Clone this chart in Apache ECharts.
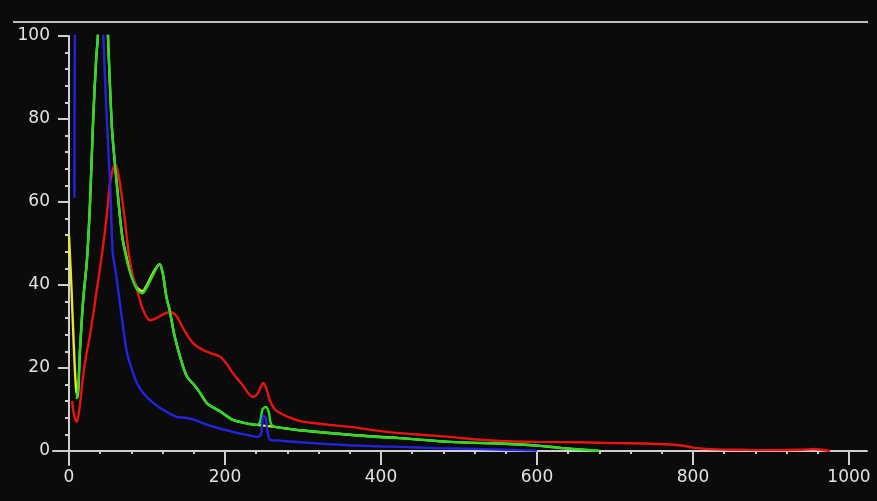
<!DOCTYPE html>
<html>
<head>
<meta charset="utf-8">
<script src="https://cdn.jsdelivr.net/npm/echarts@6/dist/echarts.min.js"></script>
<style>
html,body{margin:0;padding:0;background:#0b0b0b;}
#chart{width:877px;height:501px;}
</style>
</head>
<body>
<div id="chart"></div>
<script>
// Channel histogram data: [intensity, percent]
const yellowData = [[0,52],[3,40],[6,26],[9,15],[11,13],[14,24],[18,36],[23,46],[27,60],[31,80],[35,95],[37,100],[38,112],[48,112],[50,100],[55,78],[59,69],[68,52],[74,46.5],[80,42.5],[87,39.5],[94,38.5],[100,40],[108,43],[116,45],[120,43],[125,37],[129,34],[135,28],[142,23],[151,18],[160,16],[168,14],[177,11.5],[194,9.5],[210,7.5],[232,6.5],[241,6.3],[264,5.8],[296,5],[360,3.9],[424,3.1],[488,2.2],[552,1.8],[600,1.3],[633,0.7],[680,0]];
const redData = [[4,12],[7,8.2],[10,7],[14,11],[18,18],[22,23],[27,28],[35,38],[42,47],[48,56],[53,65],[59,69],[63,67],[68,61],[72,55],[77,47],[82,42],[87,39],[95,34],[104,31.5],[112,32],[121,33],[130,33.5],[138,32.4],[148,29],[159,26],[170,24.5],[181,23.6],[194,22.7],[202,21],[210,18.8],[222,16],[236,13],[241,13.6],[246,15.5],[249,16.4],[253,15],[258,12],[264,10],[270,9.2],[280,8.3],[296,7.2],[330,6.4],[360,5.8],[400,4.8],[424,4.3],[460,3.8],[488,3.4],[527,2.7],[552,2.4],[600,2.2],[655,2.1],[700,1.9],[740,1.8],[783,1.4],[805,0.7],[830,0.4],[860,0.3],[900,0.2],[940,0.3],[955,0.5],[965,0.3],[976,0]];
const greenData = [[10,12.5],[12,16],[14,24],[18,36],[23,46],[27,60],[31,80],[35,95],[37,100],[38,112],[48,112],[50,100],[55,78],[59,69],[68,52],[74,46],[80,42],[87,39],[94,38],[100,39.5],[108,42.5],[116,45],[120,43],[125,37],[129,34],[135,28],[142,23],[151,18],[160,16],[168,14],[177,11.5],[194,9.5],[210,7.5],[232,6.5],[241,6.3],[245,7],[248,10],[252,10.6],[256,9.5],[259,6.5],[264,5.8],[280,5.4],[296,5],[330,4.4],[360,3.9],[400,3.3],[424,3.1],[460,2.6],[488,2.2],[527,1.9],[552,1.8],[600,1.3],[633,0.7],[660,0.3],[680,0]];
const blueData = [[7,61],[9,115],[42,115],[44,100],[49,78],[53,63],[56,48],[60,43],[65,36],[70,29],[74,24],[80,20],[87,16.4],[95,14],[108,11.6],[120,10],[138,8.2],[150,8],[159,7.6],[175,6.5],[190,5.6],[210,4.6],[230,3.8],[241,3.4],[246,4],[249,8.5],[252,8],[255,4],[258,2.7],[270,2.5],[296,2.1],[330,1.7],[360,1.4],[400,1.1],[424,1],[470,0.7],[520,0.5],[560,0.3],[600,0.1]];

const xRange = [0, 1000];
const yRange = [0, 100];
const xStep = 200;
const yStep = 20;

const axisColor = '#cfcfcf';
const labelStyle = {color:'#e2e2e2', fontSize:17, fontFamily:'DejaVu Sans'};

const chart = echarts.init(document.getElementById('chart'));
function lineSeries(name, data, color){
  return {name, type:'line', data, xAxisIndex:0, yAxisIndex:0, showSymbol:false, symbol:'none',
    smooth:0.3, clip:true, lineStyle:{color, width:2.4}, itemStyle:{color}, silent:true};
}
chart.setOption({
  backgroundColor:'#0b0b0b',
  animation:false,
  grid:[
    {left:69, right:28, top:36, bottom:50},
    {left:53, right:10, top:36, bottom:36}
  ],
  xAxis:[
    {type:'value', gridIndex:0, min:xRange[0], max:xRange[1], interval:xStep,
      axisLine:{show:false}, splitLine:{show:false},
      axisTick:{show:true, length:14, lineStyle:{color:axisColor, width:2}},
      minorTick:{show:true, splitNumber:5, length:3, lineStyle:{color:axisColor, width:2}},
      axisLabel:{...labelStyle, margin:18, formatter:v => String(v)}},
    {type:'value', gridIndex:1, min:-20.5, max:1023,
      axisLine:{show:true, onZero:true, lineStyle:{color:axisColor, width:2}},
      axisTick:{show:false}, axisLabel:{show:false}, splitLine:{show:false}}
  ],
  yAxis:[
    {type:'value', gridIndex:0, min:yRange[0], max:yRange[1], interval:yStep,
      axisLine:{show:false}, splitLine:{show:false},
      axisTick:{show:true, length:11, lineStyle:{color:axisColor, width:2}},
      minorTick:{show:true, splitNumber:5, length:4, lineStyle:{color:axisColor, width:2}},
      axisLabel:{...labelStyle, margin:19, formatter:v => String(v)}},
    {type:'value', gridIndex:1, min:-3.4, max:100,
      axisLine:{show:true, onZero:true, lineStyle:{color:axisColor, width:2}},
      axisTick:{show:false}, axisLabel:{show:false}, splitLine:{show:false}}
  ],
  graphic:[
    {type:'line', shape:{x1:13, y1:22, x2:868, y2:22}, style:{stroke:'#bdbdbd', lineWidth:2}, z:10}
  ],
  series:[
    lineSeries('Luminance', yellowData, '#e6e62e'),
    lineSeries('Red', redData, '#e8140f'),
    lineSeries('Green', greenData, '#2bd92b'),
    lineSeries('Blue', blueData, '#2424e0')
  ]
});
</script>
</body>
</html>
